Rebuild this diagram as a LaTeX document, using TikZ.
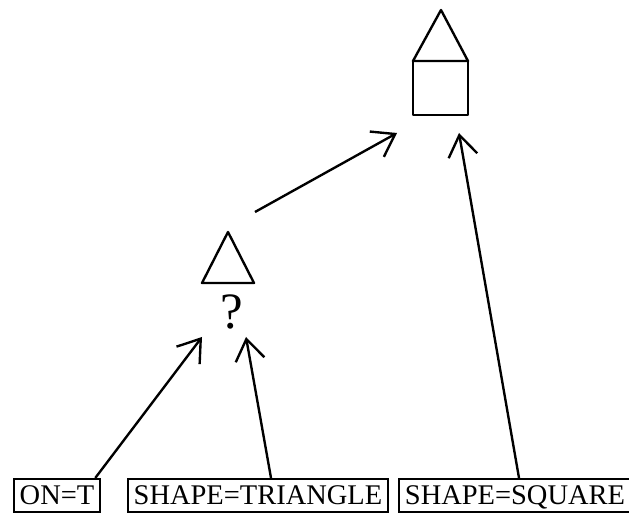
\documentclass[tikz,border=0pt]{standalone}
\usepackage{fontspec}
\setmainfont{Liberation Serif}
\usetikzlibrary{arrows.meta}
\tikzset{
    feature/.style={draw, line width=1.2pt, inner xsep=3.4pt, inner ysep=0pt,
        minimum height=0.66cm, text height=10.8pt, text depth=0pt,
        font=\fontsize{16.2}{19}\selectfont},
    link/.style={line width=1.35pt, -{Straight Barb[length=0.42cm,width=0.58cm,line width=1.35pt]}},
    figline/.style={line width=1.35pt, line join=round}
}
\begin{document}
\begin{tikzpicture}
    \useasboundingbox (0,0) rectangle (12.58,10.28);
    % Feature boxes
    \node[feature] (ont) at (1.14,0.37) {ON=T};
    \node[feature] (tri) at (5.16,0.37) {SHAPE=TRIANGLE};
    \node[feature] (sq) at (10.30,0.37) {SHAPE=SQUARE};
    % Partial object: triangle with unknown part
    \draw[figline] (4.04,4.62) -- (4.56,5.64) -- (5.08,4.62) -- cycle;
    \node[font=\fontsize{29}{30}\selectfont, inner sep=0pt] (mid) at (4.64,4.04) {?};
    % Whole object: triangle on square
    \draw[figline] (8.26,9.06) -- (8.82,10.08) -- (9.36,9.06) -- cycle;
    \draw[figline] (8.26,7.98) rectangle (9.36,9.06);
    \coordinate (top) at (8.82,8.52);
    % Arrow ends
    \coordinate (midleft) at (4.04,3.54);
    \coordinate (midright) at (4.92,3.54);
    \coordinate (midout) at (5.10,6.04);
    \coordinate (topleft) at (7.94,7.62);
    \coordinate (topright) at (9.18,7.62);
    % Links
    \draw[link] ([xshift=-0.12cm]ont.north east) -- (midleft);
    \draw[link] ([xshift=0.26cm]tri.north) -- (midright);
    \draw[link] ([xshift=0.08cm]sq.north) -- (topright);
    \draw[link] (midout) -- (topleft);
\end{tikzpicture}
\end{document}
